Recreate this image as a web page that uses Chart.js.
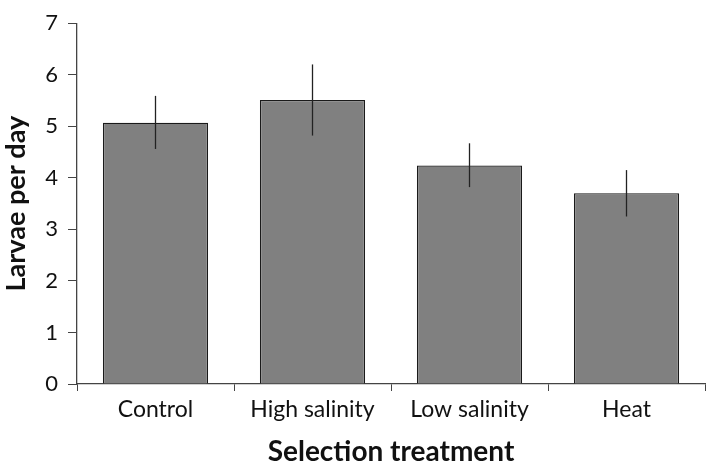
<!DOCTYPE html>
<html>
<head>
<meta charset="utf-8">
<script src="https://cdn.jsdelivr.net/npm/chart.js@4"></script>
<style>
  html, body { margin: 0; padding: 0; background: #fff; }
  #wrap { width: 709px; height: 466px; }
</style>
</head>
<body>
<div id="wrap"><canvas id="chart"></canvas></div>
<script>
// данные графика
const categories = ['Control', 'High salinity', 'Low salinity', 'Heat'];
const larvaePerDay = [5.07, 5.51, 4.24, 3.70];
const errLow = [4.56, 4.82, 3.82, 3.25];
const errHigh = [5.59, 6.20, 4.67, 4.15];

const fontFamily = 'Lato, "Open Sans", sans-serif';

// плагин для отрисовки планок погрешностей
const errorBars = {
  id: 'errorBars',
  afterDatasetsDraw(chart) {
    const ctx = chart.ctx;
    const y = chart.scales.y;
    const meta = chart.getDatasetMeta(0);
    ctx.save();
    ctx.strokeStyle = '#222';
    ctx.lineWidth = 1.3;
    meta.data.forEach((bar, i) => {
      ctx.beginPath();
      ctx.moveTo(bar.x, y.getPixelForValue(errLow[i]));
      ctx.lineTo(bar.x, y.getPixelForValue(errHigh[i]));
      ctx.stroke();
    });
    ctx.restore();
  }
};

new Chart(document.getElementById('chart'), {
  type: 'bar',
  data: {
    labels: categories,
    datasets: [{
      data: larvaePerDay,
      backgroundColor: '#808080',
      borderColor: '#1a1a1a',
      borderWidth: 1.3,
      borderSkipped: 'bottom',
      categoryPercentage: 0.67,
      barPercentage: 1.0
    }]
  },
  options: {
    responsive: true,
    maintainAspectRatio: false,
    animation: false,
    layout: { padding: { top: 11, right: 4, left: 0, bottom: 0 } },
    plugins: {
      legend: { display: false },
      tooltip: { enabled: false }
    },
    scales: {
      x: {
        afterFit: s => { s.height = 82; },
        grid: {
          display: true,
          drawOnChartArea: false,
          drawTicks: true,
          tickLength: 7,
          color: '#444',
          offset: true
        },
        border: { display: true, color: '#444', width: 1.3 },
        ticks: {
          color: '#111',
          padding: 5,
          font: { family: fontFamily, size: 23 }
        },
        title: {
          display: true,
          text: 'Selection treatment',
          color: '#111',
          padding: { top: 8, bottom: -3 },
          font: { family: fontFamily, size: 28, weight: 'bold' }
        }
      },
      y: {
        min: 0,
        max: 7,
        afterFit: s => { s.width = 77; },
        grid: {
          display: true,
          drawOnChartArea: false,
          drawTicks: true,
          tickLength: 9,
          color: '#444'
        },
        border: { display: true, color: '#444', width: 1.3 },
        ticks: {
          stepSize: 1,
          color: '#111',
          padding: 10,
          font: { family: fontFamily, size: 22 }
        },
        title: {
          display: true,
          text: 'Larvae per day',
          color: '#111',
          padding: { top: 0, bottom: 2 },
          font: { family: fontFamily, size: 27, weight: 'bold' }
        }
      }
    }
  },
  plugins: [errorBars]
});
</script>
</body>
</html>
